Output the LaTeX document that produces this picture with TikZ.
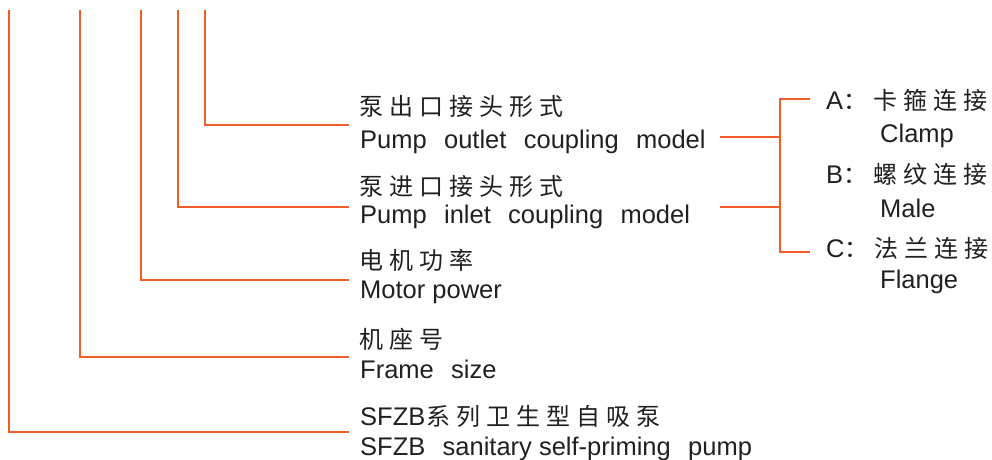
\documentclass[tikz,border=0pt]{standalone}
\usepackage{fontspec}
\setmainfont{Liberation Sans}
\newfontfamily\cjkfont{Noto Sans CJK SC}
\definecolor{lnc}{RGB}{242,92,40}
\definecolor{txc}{RGB}{35,31,32}
\makeatletter
\newcommand\cjkspread[1]{{\cjkfont\fontsize{24}{28}\selectfont\@tfor\cjk@c:=#1\do{\makebox[30pt][l]{\cjk@c}}}}
\makeatother
\newcommand\wsp{\hspace{0.68em}}
\begin{document}
\begin{tikzpicture}[x=1pt,y=-1pt,
  ln/.style={draw=lnc,line width=2pt},
  en/.style={anchor=base west,inner sep=0pt,text=txc,font=\fontsize{25.5}{30}\selectfont},
  zh/.style={anchor=base west,inner sep=0pt,text=txc}]
\useasboundingbox (0,0) rectangle (992,459);
% top ends of the verticals
\coordinate (top1) at (9,10);
\coordinate (top2) at (80,10);
\coordinate (top3) at (141,10);
\coordinate (top4) at (178,10);
\coordinate (top5) at (205,10);
% ends of the horizontals
\coordinate (e1) at (349,432);
\coordinate (e2) at (349,357);
\coordinate (e3) at (349,280);
\coordinate (e4) at (349,207);
\coordinate (e5) at (349,125);
% left labels
\node[zh] (c5) at (359,115) {\cjkspread{泵出口接头形式}};
\node[en] (l5) at (360,148) {Pump\wsp outlet\wsp coupling\wsp model};
\node[zh] (c4) at (359,195) {\cjkspread{泵进口接头形式}};
\node[en] (l4) at (360,223) {Pump\wsp inlet\wsp coupling\wsp model};
\node[zh] (c3) at (359,269) {\cjkspread{电机功率}};
\node[en] (l3) at (360,298) {Motor power};
\node[zh] (c2) at (359,348) {\cjkspread{机座号}};
\node[en] (l2) at (360,378) {Frame\wsp size};
\node[en] (c1) at (360,425) {SFZB\hspace{1pt}\cjkspread{系列卫生型自吸泵}};
\node[en] (l1) at (360,455) {SFZB\wsp sanitary self-priming\wsp pump};
% connectors
\draw[ln] (top1) |- (e1);
\draw[ln] (top2) |- (e2);
\draw[ln] (top3) |- (e3);
\draw[ln] (top4) |- (e4);
\draw[ln] (top5) |- (e5);
% right bracket
\coordinate (s5) at (720,137);
\coordinate (s4) at (720,207);
\coordinate (jA) at (780,99);
\coordinate (jC) at (780,252);
\coordinate (tA) at (810,99);
\coordinate (tC) at (810,252);
\draw[ln] (tA) -- (jA) -- (jC) -- (tC);
\draw[ln] (s5) -- (s5 -| jA);
\draw[ln] (s4) -- (s4 -| jA);
% right labels
\node[en] (oa) at (826,109) {A\makebox[30pt][l]{\cjkfont\fontsize{24}{28}\selectfont ：}\cjkspread{卡箍连接}};
\node[en] (oae) at (880,142) {Clamp};
\node[en] (ob) at (826,183) {B\makebox[30pt][l]{\cjkfont\fontsize{24}{28}\selectfont ：}\cjkspread{螺纹连接}};
\node[en] (obe) at (880,217) {Male};
\node[en] (oc) at (826,257) {C\makebox[30pt][l]{\cjkfont\fontsize{24}{28}\selectfont ：}\cjkspread{法兰连接}};
\node[en] (oce) at (880,288) {Flange};
\end{tikzpicture}
\end{document}
